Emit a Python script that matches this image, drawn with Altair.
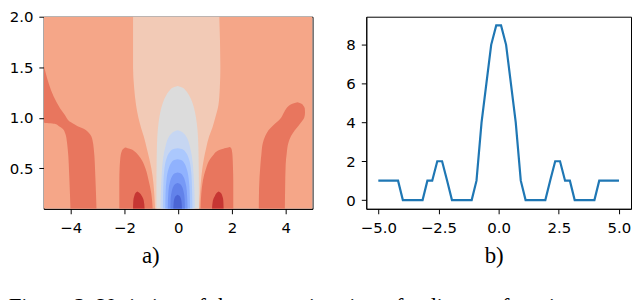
import altair as alt
import pandas as pd

# ---------------- panel a): filled contour regions (y level, left edge x1, right edge x2) ----------------
bg_y = [0.1, 2.0]
bg_x1 = [-5.0, -5.0]
bg_x2 = [5.0, 5.0]

outer_left_y = [0.10, 0.40, 0.69, 0.78, 0.815, 0.85, 0.89, 0.92, 0.94, 0.95, 0.955, 1.033, 1.516]
outer_left_x1 = [-4.01, -4.05, -4.11, -4.15, -4.17, -4.21, -4.29, -4.45, -4.60, -5.0, -5.0, -5.0, -5.0]
outer_left_x2 = [-3.04, -3.08, -3.14, -3.19, -3.23, -3.32, -3.50, -3.76, -3.90, -3.96, -3.99, -4.23, -5.0]

outer_right_y = [0.10, 0.30, 0.535, 0.65, 0.75, 0.82, 0.877, 0.93, 0.97, 1.0, 1.05, 1.095, 1.12, 1.14, 1.155]
outer_right_x1 = [3.00, 3.01, 3.06, 3.10, 3.15, 3.24, 3.36, 3.55, 3.73, 3.83, 3.93, 4.03, 4.12, 4.25, 4.44]
outer_right_x2 = [3.97, 3.98, 4.00, 4.04, 4.10, 4.20, 4.34, 4.50, 4.62, 4.69, 4.72, 4.71, 4.66, 4.59, 4.44]

inner_left_y = [0.10, 0.25, 0.38, 0.50, 0.58, 0.63, 0.67, 0.69, 0.70, 0.705]
inner_left_x1 = [-2.19, -2.19, -2.19, -2.18, -2.16, -2.14, -2.10, -2.06, -2.01, -1.97]
inner_left_x2 = [-0.95, -1.00, -1.10, -1.22, -1.35, -1.48, -1.63, -1.75, -1.88, -1.97]

inner_right_y = [0.10, 0.25, 0.38, 0.50, 0.58, 0.63, 0.675, 0.695, 0.705, 0.71]
inner_right_x1 = [0.83, 0.86, 0.92, 1.04, 1.16, 1.30, 1.47, 1.68, 1.86, 1.91]
inner_right_x2 = [2.05, 2.05, 2.05, 2.04, 2.03, 2.02, 2.00, 1.98, 1.95, 1.91]

red_left_y = [0.10, 0.18, 0.23, 0.26, 0.27]
red_left_x1 = [-1.68, -1.67, -1.63, -1.57, -1.52]
red_left_x2 = [-1.25, -1.28, -1.36, -1.46, -1.52]

red_right_y = [0.10, 0.18, 0.23, 0.26, 0.27]
red_right_x1 = [1.26, 1.29, 1.37, 1.45, 1.50]
red_right_x2 = [1.69, 1.68, 1.64, 1.57, 1.50]

peach_y = [0.10, 0.20, 0.35, 0.50, 0.60, 0.70, 0.815, 0.90, 1.00, 1.13, 1.30, 1.50, 2.00]
peach_x1 = [-0.86, -0.88, -0.92, -1.00, -1.08, -1.17, -1.28, -1.38, -1.48, -1.57, -1.64, -1.68, -1.68]
peach_x2 = [0.78, 0.80, 0.84, 0.90, 0.96, 1.04, 1.15, 1.27, 1.38, 1.50, 1.55, 1.57, 1.53]

# central domes: centre and half widths
dome_centre = -0.02
gray_y = [0.10, 0.30, 0.60, 0.80, 0.95, 1.05, 1.15, 1.22, 1.27, 1.30, 1.315]
gray_hw = [0.79, 0.79, 0.78, 0.76, 0.71, 0.65, 0.55, 0.43, 0.30, 0.17, 0.0]
lb_y = [0.10, 0.30, 0.45, 0.60, 0.72, 0.80, 0.84, 0.865, 0.877]
lb_hw = [0.64, 0.62, 0.59, 0.54, 0.45, 0.35, 0.25, 0.13, 0.0]
b2_y = [0.10, 0.35, 0.50, 0.60, 0.66, 0.69, 0.70]
b2_hw = [0.55, 0.53, 0.49, 0.41, 0.30, 0.18, 0.0]
b3_y = [0.10, 0.25, 0.40, 0.50, 0.55, 0.58, 0.59]
b3_hw = [0.46, 0.45, 0.41, 0.33, 0.25, 0.15, 0.0]
b4_y = [0.10, 0.28, 0.37, 0.42, 0.45, 0.46]
b4_hw = [0.37, 0.34, 0.28, 0.21, 0.12, 0.0]
b5_y = [0.10, 0.20, 0.27, 0.32, 0.345, 0.355]
b5_hw = [0.27, 0.26, 0.22, 0.16, 0.09, 0.0]
b6_y = [0.10, 0.17, 0.21, 0.23, 0.24]
b6_hw = [0.16, 0.145, 0.11, 0.06, 0.0]

region_colors = {
    "bg": "#f5a688", "outer_left": "#e8765e", "outer_right": "#e8765e",
    "inner_left": "#e8765e", "inner_right": "#e8765e",
    "red_left": "#c63633", "red_right": "#c63633",
    "peach": "#f2cab6", "gray": "#dcdcdc", "lb": "#c6d6f2", "b2": "#abc8fd",
    "b3": "#90b2fe", "b4": "#7799f6", "b5": "#6282ea", "b6": "#4b65d5",
}

# ---------------- panel b): line ----------------
line_x = [-5.00, -4.80, -4.59, -4.39, -4.18, -3.98, -3.78, -3.57, -3.37, -3.16,
          -2.96, -2.76, -2.55, -2.35, -2.14, -1.94, -1.73, -1.53, -1.33, -1.12,
          -0.92, -0.71, -0.51, -0.31, -0.10, 0.10, 0.31, 0.51, 0.71, 0.92,
          1.12, 1.33, 1.53, 1.73, 1.94, 2.14, 2.35, 2.55, 2.76, 2.96,
          3.16, 3.37, 3.57, 3.78, 3.98, 4.18, 4.39, 4.59, 4.80, 5.00]
line_y = [1, 1, 1, 1, 1, 0, 0, 0, 0, 0,
          1, 1, 2, 2, 1, 0, 0, 0, 0, 0,
          1, 4, 6, 8, 9, 9, 8, 6, 4, 1,
          0, 0, 0, 0, 0, 1, 2, 2, 1, 1,
          0, 0, 0, 0, 0, 1, 1, 1, 1, 1]

caption = "Figure 2: Variation of the approximation of a discrete function"

# ---------------- build tables ----------------
regions = [
    ("bg", bg_y, bg_x1, bg_x2),
    ("outer_left", outer_left_y, outer_left_x1, outer_left_x2),
    ("outer_right", outer_right_y, outer_right_x1, outer_right_x2),
    ("inner_left", inner_left_y, inner_left_x1, inner_left_x2),
    ("inner_right", inner_right_y, inner_right_x1, inner_right_x2),
    ("red_left", red_left_y, red_left_x1, red_left_x2),
    ("red_right", red_right_y, red_right_x1, red_right_x2),
    ("peach", peach_y, peach_x1, peach_x2),
]
for name, ys, hws in [("gray", gray_y, gray_hw), ("lb", lb_y, lb_hw), ("b2", b2_y, b2_hw),
                      ("b3", b3_y, b3_hw), ("b4", b4_y, b4_hw), ("b5", b5_y, b5_hw),
                      ("b6", b6_y, b6_hw)]:
    regions.append((name, ys, [dome_centre - w for w in hws], [dome_centre + w for w in hws]))

rows = []
for name, ys, x1s, x2s in regions:
    for yv, a, b in zip(ys, x1s, x2s):
        rows.append({"region": name, "y": yv, "x1": a, "x2": b})
df = pd.DataFrame(rows)

FONT = "DejaVu Sans"
SERIF = "Liberation Serif"

common_axis = dict(grid=False, labelFont=FONT, labelFontSize=15, labelColor="black",
                   domainColor="black", tickColor="black", tickSize=5,
                   titleFont=SERIF, titleFontSize=23, titleFontWeight="normal",
                   titleColor="black")

xsc_a = alt.Scale(domain=[-5, 5], nice=False, zero=False)
ysc_a = alt.Scale(domain=[0.1, 2.0], nice=False, zero=False)
xax_a = alt.Axis(values=[-4, -2, 0, 2, 4], format="d", titleX=107, titleY=54,
                 titleAlign="center", titleBaseline="alphabetic", labelPadding=7,
                 **common_axis)
yax_a = alt.Axis(values=[0.5, 1.0, 1.5, 2.0], format=".1f", labelPadding=6, **common_axis)

layers = []
for name, _, _, _ in regions:
    interp = "linear" if name == "bg" else "monotone"
    layers.append(
        alt.Chart(df)
        .transform_filter(alt.datum.region == name)
        .mark_area(orient="horizontal", clip=True, color=region_colors[name],
                   interpolate=interp, opacity=1)
        .encode(
            y=alt.Y("y:Q", scale=ysc_a, axis=yax_a, title=None),
            x=alt.X("x1:Q", scale=xsc_a, axis=xax_a, title="a)"),
            x2="x2:Q",
        )
    )
left = alt.layer(*layers).properties(width=270, height=193)

df_line = pd.DataFrame({"x": line_x, "v": line_y})
right = (
    alt.Chart(df_line)
    .mark_line(color="#1f77b4", strokeWidth=2.2, clip=True)
    .encode(
        x=alt.X("x:Q", scale=alt.Scale(domain=[-5.5, 5.5], nice=False, zero=False),
                axis=alt.Axis(values=[-5, -2.5, 0, 2.5, 5], format=".1f", titleX=128,
                              titleY=54, titleAlign="center", titleBaseline="alphabetic",
                              labelPadding=7, **common_axis),
                title="b)"),
        y=alt.Y("v:Q", scale=alt.Scale(domain=[-0.45, 9.45], nice=False, zero=False),
                axis=alt.Axis(values=[0, 2, 4, 6, 8], format="d", labelPadding=6,
                              **common_axis),
                title=None),
    )
    .properties(width=266, height=193)
)

chart = (
    alt.hconcat(left, right, spacing=31)
    .properties(
        padding={"left": 0, "top": 0, "right": 0, "bottom": 0},
        title=alt.TitleParams(caption, orient="bottom", anchor="start", font=SERIF,
                              fontSize=23, fontWeight="normal", color="black", offset=28.5),
    )
    .configure_view(stroke="black", strokeWidth=1)
)

chart.save("out.html", embed_options={"renderer": "svg", "actions": False})
